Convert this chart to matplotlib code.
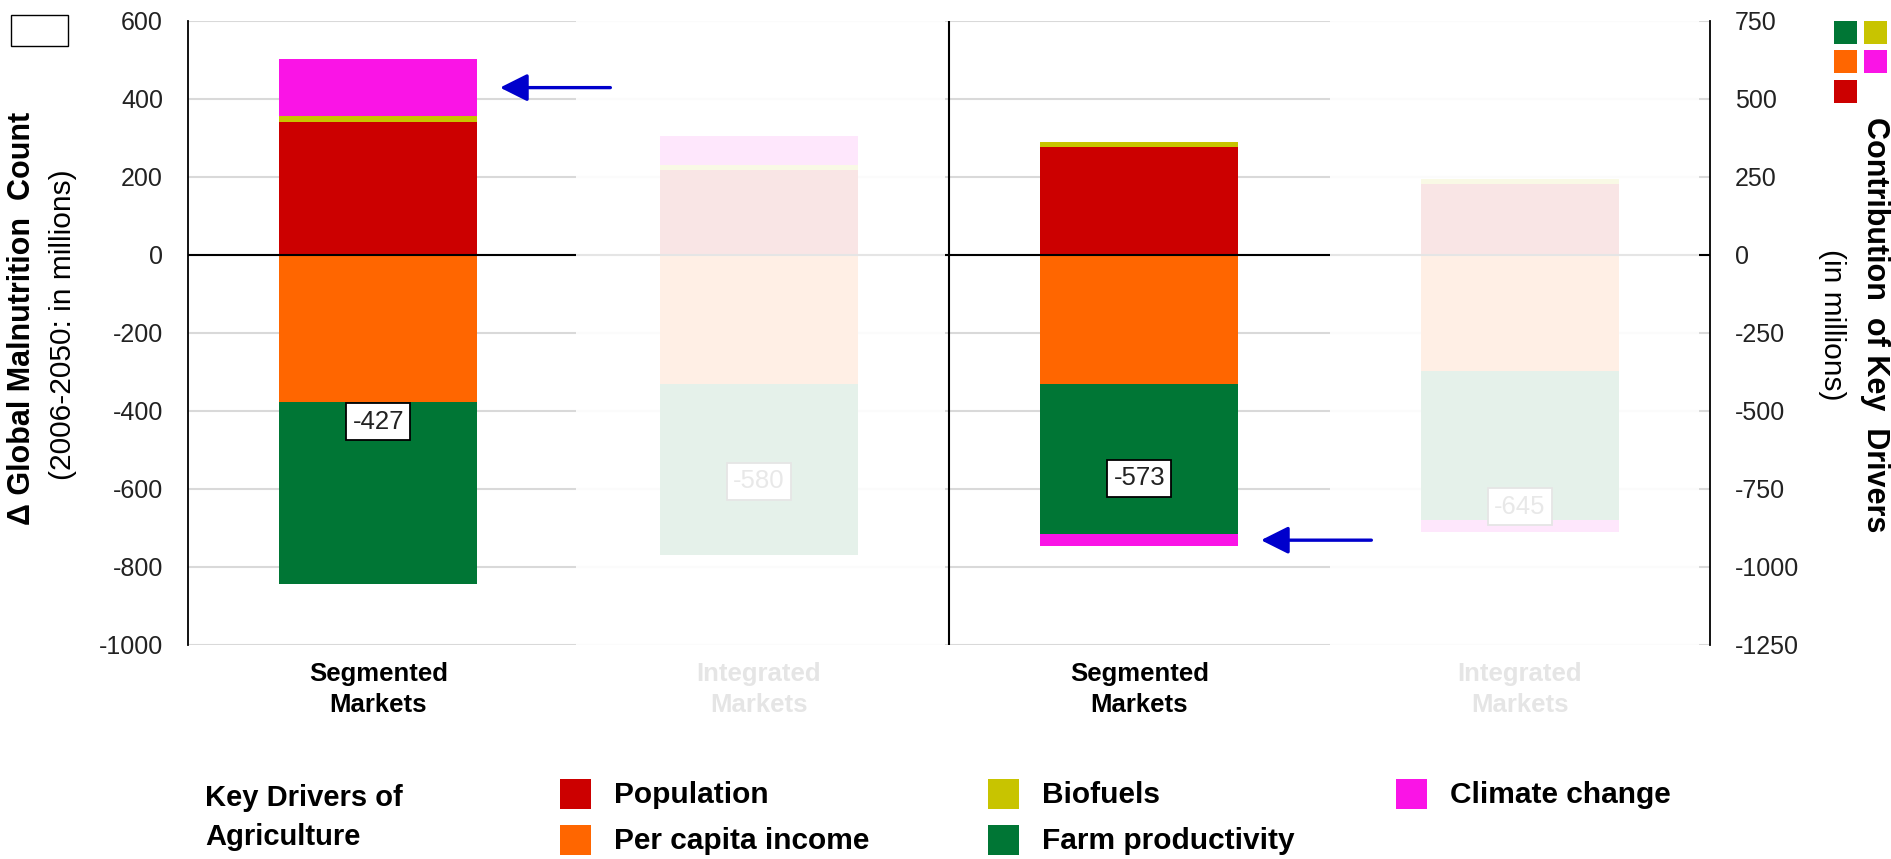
import numpy as np
import matplotlib.pyplot as plt
from matplotlib.patches import Rectangle
from matplotlib.transforms import blended_transform_factory

plt.rcParams['font.family'] = ['Liberation Sans', 'DejaVu Sans']
plt.rcParams['axes.unicode_minus'] = False

# ---------- DATA (contributions, in millions, right-axis units) ----------
categories = ["Segmented\nMarkets", "Integrated\nMarkets",
              "Segmented\nMarkets", "Integrated\nMarkets"]
population = [426, 273, 345, 228]
per_capita_income = [-470, -413, -413, -372]
biofuels = [20, 15, 16, 15]
farm_productivity = [-584, -549, -481, -477]
climate_change = [181, 94, -40, -39]

left_ticks = [600, 400, 200, 0, -200, -400, -600, -800, -1000]
right_ticks = [750, 500, 250, 0, -250, -500, -750, -1000, -1250]

highlighted = [0, 2]      # bars with the arrow on climate change
faded_spans = [(0.52, 1.49), (2.50, 3.47)]

colors = {
    "Population": "#CC0000",
    "Per capita income": "#FF6600",
    "Biofuels": "#C8C400",
    "Farm productivity": "#007635",
    "Climate change": "#FA14E6",
}

W, H = 1891, 859


def fx(px):
    return px / W


def fy(py):
    return 1 - py / H


fig = plt.figure(figsize=(W / 100, H / 100), dpi=100)
ax = fig.add_axes([fx(188), fy(645), (1710 - 188) / W, (645 - 21) / H])

# ---------- LEFT AXIS ----------
ax.set_xlim(-0.5, 3.5)
ax.set_ylim(-1000, 600)
ax.set_yticks(left_ticks)
ax.yaxis.grid(True, color='#d9d9d9', lw=1.5)
ax.set_axisbelow(True)
for s in ['top', 'bottom', 'right']:
    ax.spines[s].set_visible(False)
ax.spines['left'].set_color('black')
ax.spines['left'].set_linewidth(1.3)
ax.tick_params(axis='y', length=0, labelsize=18, pad=18, labelcolor='#222222')
ax.set_xticks(range(len(categories)))
ax.set_xticklabels(categories, fontweight='bold', fontsize=18.5, linespacing=1.4)
ax.tick_params(axis='x', length=0, pad=12)

# ---------- RIGHT AXIS (bars live here) ----------
ax2 = ax.twinx()
ax2.set_ylim(-1250, 750)
ax2.set_yticks(right_ticks)
for s in ['top', 'bottom', 'left']:
    ax2.spines[s].set_visible(False)
ax2.spines['right'].set_color('black')
ax2.spines['right'].set_linewidth(1.3)
ax2.tick_params(axis='y', length=0, labelsize=18, pad=18, labelcolor='#222222')

# right axis value per left axis value
ratio = 1250 / 1000

x = np.arange(len(categories))
pos_base = np.zeros(len(x))
neg_base = np.zeros(len(x))
series = [("Population", population),
          ("Per capita income", per_capita_income),
          ("Biofuels", biofuels),
          ("Farm productivity", farm_productivity),
          ("Climate change", climate_change)]
climate_mid = None
for name, vals in series:
    vals = np.array(vals, dtype=float)
    bottom = np.where(vals >= 0, pos_base, neg_base)
    ax2.bar(x, vals, 0.52, bottom=bottom, color=colors[name], lw=0, zorder=2)
    if name == "Climate change":
        climate_mid = bottom + vals / 2
    pos_base += np.clip(vals, 0, None)
    neg_base += np.clip(vals, None, 0)

net = pos_base + neg_base

# net change labels, placed at the net value read on the left axis
for i, v in enumerate(net):
    ax2.text(i, v * ratio, f"{v:.0f}", ha='center', va='center',
             fontsize=18.5, color='#222222',
             bbox=dict(boxstyle='square,pad=0.25', fc='white', ec='black', lw=1.3),
             zorder=4)

ax2.axhline(0, color='black', lw=1.5, zorder=3)
ax2.axvline(1.5, color='black', lw=1.5, zorder=3)

# white veil over the integrated-market columns
trans = blended_transform_factory(ax2.transData, ax2.transAxes)
for x0, x1 in faded_spans:
    ax2.add_patch(Rectangle((x0, -0.13), x1 - x0, 1.2, transform=trans,
                            fc='white', ec='none', alpha=0.9, zorder=5,
                            clip_on=False))

# arrows pointing at climate change
for i in highlighted:
    tip = i + 0.26 + 0.06
    ax2.annotate("", xy=(tip, climate_mid[i]), xytext=(tip + 0.29, climate_mid[i]),
                 arrowprops=dict(arrowstyle='-|>', color='#0000CC', lw=2.4,
                                 mutation_scale=42, shrinkA=0, shrinkB=0),
                 zorder=6, annotation_clip=False)

# ---------- AXIS TITLES ----------
fig.text(fx(22), fy(318), "\u0394 Global Malnutrition  Count", rotation=90,
         ha='center', va='center', fontsize=22, fontweight='bold')
fig.text(fx(63), fy(325), "(2006-2050: in millions)", rotation=90,
         ha='center', va='center', fontsize=21.5)
fig.text(fx(1875), fy(325), "Contribution  of Key  Drivers", rotation=270,
         ha='center', va='center', fontsize=22, fontweight='bold')
fig.text(fx(1832), fy(325), "(in millions)", rotation=270,
         ha='center', va='center', fontsize=21.5)

# empty box top-left
fig.patches.append(Rectangle((fx(11), fy(46)), 57 / W, 31 / H, transform=fig.transFigure,
                             fill=False, ec='black', lw=1))

# small colour key top-right
mini = [("Farm productivity", 1834, 21), ("Biofuels", 1864, 21),
        ("Per capita income", 1834, 50), ("Climate change", 1864, 50),
        ("Population", 1834, 80)]
for name, px, py in mini:
    fig.patches.append(Rectangle((fx(px), fy(py + 23)), 23 / W, 23 / H,
                                 transform=fig.transFigure, fc=colors[name], ec='none'))

# ---------- BOTTOM LEGEND ----------
fig.text(fx(205), fy(798), "Key Drivers of", ha='left', va='center',
         fontsize=21, fontweight='bold')
fig.text(fx(205), fy(837), "Agriculture", ha='left', va='center',
         fontsize=21, fontweight='bold')
legend_pos = [("Population", 560, 779), ("Per capita income", 560, 825),
              ("Biofuels", 988, 779), ("Farm productivity", 988, 825),
              ("Climate change", 1396, 779)]
for name, px, py in legend_pos:
    fig.patches.append(Rectangle((fx(px), fy(py + 30)), 31 / W, 30 / H,
                                 transform=fig.transFigure, fc=colors[name], ec='none'))
    fig.text(fx(px + 54), fy(py + 16), name, ha='left', va='center',
             fontsize=21.5, fontweight='bold')

fig.savefig("out.png", dpi=100)
